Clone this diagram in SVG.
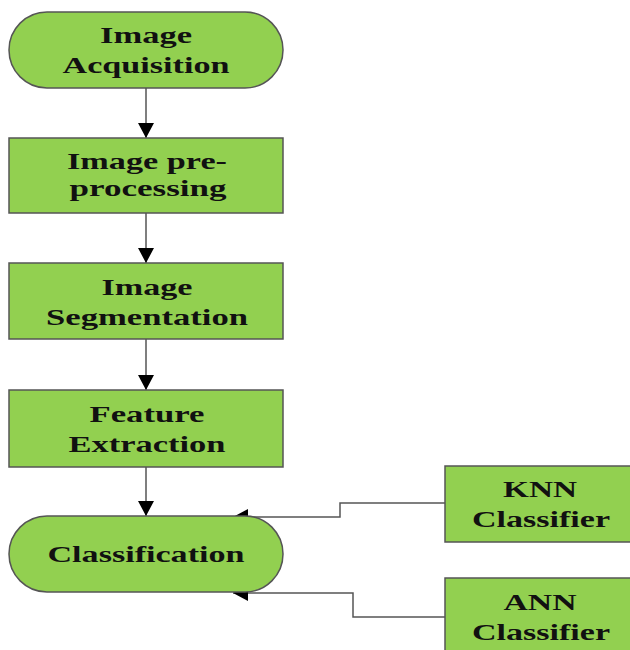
<svg xmlns="http://www.w3.org/2000/svg" width="630" height="650" viewBox="0 0 630 650">
<style>
.n{fill:#92D050;stroke:#555;stroke-width:1.5}
.t{font-family:"Liberation Serif","Times New Roman",serif;font-weight:bold;font-size:24px;fill:#111;text-anchor:middle}
.c{fill:none;stroke:#555;stroke-width:1.5}
</style>
<defs>
<marker id="a" markerWidth="16" markerHeight="16" refX="15" refY="8" orient="auto" markerUnits="userSpaceOnUse">
<path d="M0,0 L15,8 L0,16 Z" fill="#000"/>
</marker>
</defs>
<rect width="630" height="650" fill="#fff"/>
<g id="connectors">
<line class="c" x1="146" y1="88" x2="146" y2="138" marker-end="url(#a)"/>
<line class="c" x1="146" y1="213" x2="146" y2="263" marker-end="url(#a)"/>
<line class="c" x1="146" y1="339" x2="146" y2="390" marker-end="url(#a)"/>
<line class="c" x1="146" y1="467" x2="146" y2="516" marker-end="url(#a)"/>
<polyline class="c" points="445,503 340,503 340,517 233,517" marker-end="url(#a)"/>
<polyline class="c" points="445,617 353,617 353,593 233,593" marker-end="url(#a)"/>
</g>
<g id="acq">
<rect class="n" x="9" y="12" width="274" height="76" rx="38" ry="38"/>
<text class="t" x="146" y="43" textLength="92" lengthAdjust="spacingAndGlyphs">Image</text>
<text class="t" x="146" y="73" textLength="167" lengthAdjust="spacingAndGlyphs">Acquisition</text>
</g>
<g id="pre">
<rect class="n" x="9" y="138" width="274" height="75"/>
<text class="t" x="147" y="169" textLength="160" lengthAdjust="spacingAndGlyphs">Image pre-</text>
<text class="t" x="148" y="196" textLength="157" lengthAdjust="spacingAndGlyphs">processing</text>
</g>
<g id="seg">
<rect class="n" x="9" y="263" width="274" height="76"/>
<text class="t" x="147" y="295" textLength="91" lengthAdjust="spacingAndGlyphs">Image</text>
<text class="t" x="147" y="325" textLength="202" lengthAdjust="spacingAndGlyphs">Segmentation</text>
</g>
<g id="feat">
<rect class="n" x="9" y="390" width="274" height="77"/>
<text class="t" x="147" y="422" textLength="115" lengthAdjust="spacingAndGlyphs">Feature</text>
<text class="t" x="147" y="452" textLength="157" lengthAdjust="spacingAndGlyphs">Extraction</text>
</g>
<g id="cls">
<rect class="n" x="9" y="516" width="274" height="76" rx="38" ry="38"/>
<text class="t" x="146" y="562" textLength="197" lengthAdjust="spacingAndGlyphs">Classification</text>
</g>
<g id="knn">
<rect class="n" x="445" y="466" width="200" height="76"/>
<text class="t" x="540" y="497" textLength="74" lengthAdjust="spacingAndGlyphs">KNN</text>
<text class="t" x="541" y="527" textLength="138" lengthAdjust="spacingAndGlyphs">Classifier</text>
</g>
<g id="ann">
<rect class="n" x="445" y="578" width="200" height="90"/>
<text class="t" x="540" y="610" textLength="73" lengthAdjust="spacingAndGlyphs">ANN</text>
<text class="t" x="541" y="640" textLength="138" lengthAdjust="spacingAndGlyphs">Classifier</text>
</g>
</svg>
